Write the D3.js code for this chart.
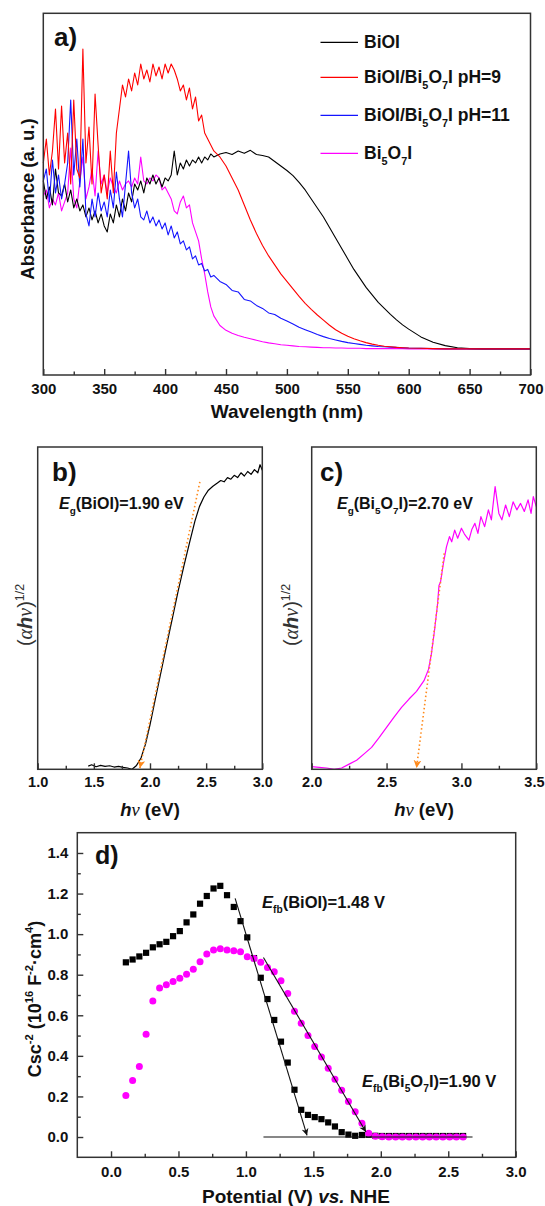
<!DOCTYPE html>
<html>
<head>
<meta charset="utf-8">
<script src="https://cdnjs.cloudflare.com/ajax/libs/d3/7.8.5/d3.min.js"></script>
<style>
body { margin: 0; background: #fff; }
svg { display: block; font-family: "Liberation Sans", Arial, sans-serif; font-weight: bold; }
</style>
</head>
<body>
<div class="canvas"></div>
<script>
// ---- panel a: UV-vis absorbance ----
var wavelength = [].concat(d3.range(300, 440.1, 2.5), d3.range(445, 600.1, 5), d3.range(610, 700.1, 10));

var absBiOI = [0.56,0.50,0.54,0.48,0.60,0.52,0.51,0.55,0.49,0.53,0.47,0.50,0.46,0.48,0.44,0.47,0.43,0.46,0.42,0.45,
    0.41,0.39,0.45,0.42,0.48,0.44,0.50,0.46,0.52,0.49,0.55,0.53,0.56,0.52,0.57,0.55,0.58,0.55,0.57,0.54,
    0.57,0.56,0.58,0.66,0.58,0.62,0.60,0.63,0.61,0.63,0.62,0.64,0.62,0.64,0.63,0.65,0.64,
    0.65,0.655,0.648,0.66,0.652,0.662,0.648,0.645,0.64,0.625,0.61,0.595,0.578,0.555,0.53,0.5,0.47,0.44,0.405,0.37,
    0.335,0.3,0.265,0.235,0.205,0.18,0.155,0.135,0.115,0.097,0.08,0.066,
    0.04,0.022,0.011,0.004,0.001,0,0,0,0,0];

var absPH9 = [0.62,0.70,0.58,0.66,0.80,0.60,0.81,0.62,0.72,0.55,0.83,0.60,0.57,1.00,0.62,0.74,0.55,0.85,0.68,0.52,
    0.58,0.50,0.66,0.52,0.72,0.80,0.88,0.84,0.90,0.86,0.92,0.88,0.95,0.90,0.93,0.89,0.95,0.91,0.94,0.90,
    0.95,0.92,0.95,0.93,0.90,0.86,0.88,0.83,0.87,0.80,0.84,0.76,0.78,0.72,0.70,0.68,0.66,
    0.64,0.61,0.57,0.53,0.48,0.43,0.385,0.345,0.31,0.28,0.25,0.225,0.2,0.175,0.152,0.132,0.113,0.096,0.079,0.064,
    0.052,0.042,0.034,0.027,0.021,0.016,0.012,0.009,0.007,0.005,0.004,0.003,
    0.002,0.001,0,0,0,0,0,0,0,0];

var absPH11 = [0.56,0.60,0.49,0.63,0.52,0.58,0.50,0.55,0.62,0.83,0.58,0.70,0.54,0.70,0.45,0.41,0.50,0.44,0.52,0.46,
    0.49,0.44,0.53,0.47,0.59,0.50,0.44,0.55,0.66,0.52,0.47,0.50,0.44,0.43,0.46,0.42,0.44,0.41,0.43,0.40,
    0.42,0.38,0.41,0.37,0.39,0.35,0.36,0.33,0.34,0.30,0.31,0.28,0.285,0.26,0.265,0.24,0.245,
    0.225,0.215,0.195,0.19,0.165,0.16,0.145,0.135,0.12,0.115,0.102,0.093,0.083,0.072,0.064,0.056,0.048,0.041,0.035,0.03,
    0.025,0.021,0.018,0.015,0.012,0.01,0.008,0.007,0.006,0.005,0.004,0.003,
    0.002,0.001,0,0,0,0,0,0,0,0];

var absBi5O7I = [0.51,0.53,0.47,0.50,0.48,0.52,0.46,0.49,0.52,0.67,0.50,0.47,0.56,0.64,0.50,0.54,0.60,0.51,0.66,0.55,
    0.58,0.52,0.57,0.54,0.52,0.56,0.53,0.55,0.56,0.54,0.57,0.55,0.64,0.56,0.55,0.57,0.56,0.58,0.57,0.53,
    0.54,0.52,0.50,0.46,0.45,0.49,0.51,0.47,0.48,0.42,0.39,0.36,0.30,0.25,0.19,0.14,0.11,
    0.078,0.062,0.052,0.045,0.039,0.034,0.029,0.024,0.02,0.017,0.014,0.012,0.01,0.008,0.007,0.006,0.005,0.004,0.004,0.003,
    0.003,0.002,0.002,0.002,0.001,0.001,0.001,0.001,0.001,0.001,0.001,0,
    0,0,0,0,0,0,0,0,0,0];

var wavelengthTicks = [300, 350, 400, 450, 500, 550, 600, 650, 700];
var wavelengthMinor = [325, 375, 425, 475, 525, 575, 625, 675];

// ---- panel b / c: Tauc plots ----
var bEnergy = [1.45,1.48,1.52,1.56,1.60,1.64,1.68,1.72,1.76,1.80,1.84,1.88,1.92,1.96,2.00,2.05,2.10,2.15,2.20,2.25,
    2.30,2.35,2.40,2.44,2.48,2.52,2.56,2.60,2.63,2.66,2.69,2.72,2.75,2.78,2.81,2.84,2.87,2.90,2.93,2.96,2.98,3.00];
var bSignal = [0.010,0.014,0.008,0.012,0.009,0.011,0.007,0.009,0.006,0.004,0.000,0.012,0.035,0.078,0.138,0.222,0.305,0.388,0.470,0.552,
    0.628,0.700,0.770,0.815,0.845,0.866,0.878,0.888,0.896,0.892,0.905,0.900,0.912,0.905,0.920,0.910,0.924,0.915,0.930,0.920,0.945,0.928];
var bTangent = [[2.444, 0.892], [1.91, 0.004]];
var bTicks = [1.0, 1.5, 2.0, 2.5, 3.0];
var bMinor = [1.25, 1.75, 2.25, 2.75];

var cEnergy = [2.00,2.05,2.10,2.15,2.20,2.25,2.30,2.35,2.40,2.45,2.50,2.55,2.60,2.65,2.70,2.75,2.78,2.80,2.82,2.84,
    2.85,2.86,2.88,2.90,2.92,2.935,2.955,2.975,3.00,3.02,3.05,3.07,3.09,3.11,3.13,3.155,3.18,3.20,3.225,3.25,
    3.27,3.295,3.32,3.345,3.37,3.395,3.42,3.445,3.465,3.48,3.50];
var cSignal = [0.008,0.006,0.004,0.000,0.004,0.016,0.028,0.048,0.068,0.098,0.130,0.162,0.192,0.218,0.242,0.275,0.31,0.36,0.43,0.51,
    0.57,0.58,0.64,0.69,0.722,0.706,0.742,0.717,0.748,0.73,0.711,0.745,0.763,0.732,0.784,0.753,0.805,0.774,0.877,0.794,
    0.774,0.82,0.784,0.83,0.805,0.825,0.80,0.836,0.794,0.846,0.815];
var cTangent = [[2.885, 0.67], [2.70, 0.004]];
var cTicks = [2.0, 2.5, 3.0, 3.5];
var cMinor = [2.25, 2.75, 3.25];

// ---- panel d: Mott-Schottky ----
var potential = [0.11,0.16,0.21,0.26,0.31,0.36,0.41,0.46,0.51,0.56,0.61,0.66,0.71,0.76,0.81,0.86,0.91,0.96,1.01,1.06,
    1.11,1.16,1.21,1.26,1.31,1.36,1.41,1.46,1.51,1.56,1.61,1.66,1.71,1.76,1.81,1.86,1.91,1.96,2.01,2.06,
    2.11,2.16,2.21,2.26,2.31,2.36,2.41,2.46,2.51,2.56,2.61];
var cscBiOI = [0.861,0.875,0.89,0.908,0.935,0.95,0.962,0.99,1.015,1.058,1.097,1.15,1.188,1.225,1.238,1.192,1.134,1.064,0.984,0.882,
    0.785,0.68,0.577,0.47,0.367,0.233,0.134,0.109,0.098,0.088,0.072,0.052,0.024,0.012,0.006,0.01,0.011,0.006,0.005,0.005,
    0.005,0.005,0.005,0.005,0.005,0.005,0.005,0.005,0.005,0.005,0.005];
var cscBi5O7I = [0.205,0.279,0.348,0.507,0.671,0.735,0.75,0.766,0.782,0.802,0.827,0.864,0.902,0.922,0.928,0.922,0.918,0.913,0.889,0.88,
    0.861,0.835,0.815,0.77,0.707,0.62,0.561,0.50,0.446,0.395,0.339,0.285,0.23,0.175,0.125,0.068,0.018,0.004,0.001,0,
    0,0,0,0,0,0,0,0,0,0,0];
var fitBiOI = [[0.92, 1.176], [1.453, 0.008]];
var fitBi5O7I = [[1.13, 0.885], [1.89, 0.025]];
var fitBase = [[1.13, 0], [2.68, 0]];
var potentialTicks = [0, 0.5, 1.0, 1.5, 2.0, 2.5, 3.0];
var potentialMinor = [0.25, 0.75, 1.25, 1.75, 2.25, 2.75];
var cscTicks = [0, 0.2, 0.4, 0.6, 0.8, 1.0, 1.2, 1.4];
var cscMinor = [0.1, 0.3, 0.5, 0.7, 0.9, 1.1, 1.3];

var svg = d3.select('.canvas').append('svg')
    .attr('width', 545)
    .attr('height', 1206);

var defs = svg.append('defs');
function arrowMarker(id, color, w, h) {
    defs.append('marker')
        .attr('id', id)
        .attr('viewBox', '0 0 10 10')
        .attr('refX', 10).attr('refY', 5)
        .attr('markerUnits', 'userSpaceOnUse')
        .attr('markerWidth', w).attr('markerHeight', h)
        .attr('orient', 'auto')
        .append('path')
            .attr('d', 'M0,0 L10,5 L0,10 L3,5 z')
            .attr('fill', color);
}
arrowMarker('arrowBlack', '#111', 9, 7);
arrowMarker('arrowOrange', '#ff8a1c', 8, 8);

// text with sub/superscripts
function rich(sel, parts, size) {
    var shift = 0;
    parts.forEach(function (p) {
        if (typeof p === 'string') p = {t: p};
        var target = p.sub ? size * 0.32 : (p.sup ? -size * 0.42 : 0);
        var t = sel.append('tspan').text(p.t).attr('dy', target - shift);
        shift = target;
        if (p.sub || p.sup) t.attr('font-size', size * 0.62);
        if (p.it) t.attr('font-style', 'italic');
        if (p.serif) t.attr('font-family', '"Liberation Serif", serif');
        if (p.light) t.attr('font-weight', 'normal');
    });
    return sel;
}

function label(x, y, size, parts, opts) {
    opts = opts || {};
    var t = svg.append('text')
        .attr('font-size', size)
        .attr('fill', opts.fill || '#111')
        .attr('text-anchor', opts.anchor || 'start');
    if (opts.rotate) {
        t.attr('transform', 'translate(' + x + ',' + y + ') rotate(-90)');
    } else {
        t.attr('x', x).attr('y', y);
    }
    return rich(t, parts, size);
}

function frame(box) {
    svg.append('rect')
        .attr('x', box.left).attr('y', box.top)
        .attr('width', box.right - box.left)
        .attr('height', box.bottom - box.top)
        .attr('fill', 'none')
        .attr('stroke', '#333')
        .attr('stroke-width', 1.5);
}

function styleAxis(g, size) {
    g.attr('font-family', null).attr('font-size', null);
    g.selectAll('.domain').remove();
    g.selectAll('line').attr('stroke', '#333').attr('stroke-width', 1.4);
    g.selectAll('text')
        .attr('font-size', size)
        .attr('font-weight', 'bold')
        .attr('fill', '#111');
}

function bottomAxis(box, x, majors, minors, pad, size) {
    var g = svg.append('g').attr('transform', 'translate(0,' + box.bottom + ')');
    g.call(d3.axisBottom(x).tickValues(majors).tickSize(-6).tickSizeOuter(0)
        .tickPadding(pad).tickFormat(d3.format(x.domain()[1] > 100 ? 'd' : '.1f')));
    g.append('g').call(d3.axisBottom(x).tickValues(minors).tickSize(-3.5).tickSizeOuter(0).tickFormat(''));
    styleAxis(g, size);
    styleAxis(g.select('g:last-child'), size);
    return g;
}

function leftAxis(box, y, majors, minors, pad, size) {
    var g = svg.append('g').attr('transform', 'translate(' + box.left + ',0)');
    g.call(d3.axisLeft(y).tickValues(majors).tickSize(-6).tickSizeOuter(0)
        .tickPadding(pad).tickFormat(d3.format('.1f')));
    g.append('g').call(d3.axisLeft(y).tickValues(minors).tickSize(-3.5).tickSizeOuter(0).tickFormat(''));
    styleAxis(g, size);
    styleAxis(g.select('g:last-child'), size);
    return g;
}

function curve(x, y, xs, ys, color, width) {
    var line = d3.line()
        .x(function (d) { return x(d[0]); })
        .y(function (d) { return y(d[1]); });
    svg.append('path')
        .datum(xs.map(function (v, i) { return [v, ys[i]]; }))
        .attr('d', line)
        .attr('fill', 'none')
        .attr('stroke', color)
        .attr('stroke-width', width)
        .attr('stroke-linejoin', 'round');
}

function segment(x, y, pts, color, width, dash, marker) {
    var p = svg.append('line')
        .attr('x1', x(pts[0][0])).attr('y1', y(pts[0][1]))
        .attr('x2', x(pts[1][0])).attr('y2', y(pts[1][1]))
        .attr('stroke', color)
        .attr('stroke-width', width);
    if (dash) p.attr('stroke-dasharray', dash);
    if (marker) p.attr('marker-end', 'url(#' + marker + ')');
}

// ================= a) =================
var boxA = {left: 43.3, right: 530.5, top: 13.3, bottom: 375};
var xA = d3.scaleLinear().domain([300, 700]).range([boxA.left, boxA.right]);
var yA = d3.scaleLinear().domain([-0.087, 1.119]).range([boxA.bottom, boxA.top]);

var seriesA = [
    {name: ['BiOI'], values: absBiOI, color: '#000000'},
    {name: ['BiOI/Bi', {t: '5', sub: true}, 'O', {t: '7', sub: true}, 'I pH=9'], values: absPH9, color: '#ff0000'},
    {name: ['BiOI/Bi', {t: '5', sub: true}, 'O', {t: '7', sub: true}, 'I pH=11'], values: absPH11, color: '#1414ff'},
    {name: ['Bi', {t: '5', sub: true}, 'O', {t: '7', sub: true}, 'I'], values: absBi5O7I, color: '#ff00ff'}
];

// draw order: magenta at the back, red on top
[3, 0, 2, 1].forEach(function (i) {
    var s = seriesA[i];
    curve(xA, yA, wavelength, s.values, s.color, 1.1);
});

var legendRows = [42.3, 77.3, 115.3, 153.3];
seriesA.forEach(function (s, i) {
    svg.append('line')
        .attr('x1', 320.5).attr('x2', 358)
        .attr('y1', legendRows[i]).attr('y2', legendRows[i])
        .attr('stroke', s.color).attr('stroke-width', 1.3);
    label(364, legendRows[i] + 6, 17.5, s.name);
});

frame(boxA);
bottomAxis(boxA, xA, wavelengthTicks, wavelengthMinor, 8, 15);
label(54, 46, 26, ['a)']);
label(287, 418, 19, ['Wavelength (nm)'], {anchor: 'middle'});
label(34, 199, 18.5, ['Absorbance (a. u.)'], {anchor: 'middle', rotate: true});

// ================= b) =================
var boxB = {left: 37.7, right: 262.3, top: 447, bottom: 769.3};
var xB = d3.scaleLinear().domain([1.0, 3.0]).range([boxB.left, boxB.right]);
var yB = d3.scaleLinear().domain([0, 1]).range([boxB.bottom, boxB.top]);
curve(xB, yB, bEnergy, bSignal, '#000', 1.2);
segment(xB, yB, bTangent, '#ff8a1c', 1.6, '1.5,2.6', 'arrowOrange');
frame(boxB);
bottomAxis(boxB, xB, bTicks, bMinor, 7, 14.5);
label(52, 481, 26, ['b)']);
label(59, 509, 16, [{t: 'E', it: true}, {t: 'g', sub: true}, '(BiOI)=1.90 eV']);

// ================= c) =================
var boxC = {left: 311.7, right: 536.3, top: 447, bottom: 769.3};
var xC = d3.scaleLinear().domain([2.0, 3.5]).range([boxC.left, boxC.right]);
var yC = d3.scaleLinear().domain([0, 1]).range([boxC.bottom, boxC.top]);
curve(xC, yC, cEnergy, cSignal, '#ff00ff', 1.2);
segment(xC, yC, cTangent, '#ff8a1c', 1.6, '1.5,2.6', 'arrowOrange');
frame(boxC);
var axisC = bottomAxis(boxC, xC, cTicks, cMinor, 7, 14.5);
// last label sits at the page edge: keep it inside
axisC.selectAll('.tick text')
    .filter(function (d) { return d === 3.5; })
    .attr('text-anchor', 'end')
    .attr('x', 545 - 1 - xC(3.5));
label(320, 481, 26, ['c)']);
label(337, 509, 16, [{t: 'E', it: true}, {t: 'g', sub: true}, '(Bi', {t: '5', sub: true}, 'O', {t: '7', sub: true}, 'I)=2.70 eV']);

var tauc = [{t: '(', light: true}, {t: 'α', it: true, serif: true, light: true}, {t: 'h', it: true},
    {t: 'ν', it: true, serif: true, light: true}, {t: ')', light: true}, {t: '1/2', sup: true, light: true}];
label(32, 615, 20, tauc, {anchor: 'middle', rotate: true, fill: '#333'});
label(298, 615, 20, tauc, {anchor: 'middle', rotate: true, fill: '#333'});

var hvTitle = [{t: 'h', it: true}, {t: 'ν', it: true, serif: true, light: true}, ' (eV)'];
label(150, 816, 18.5, hvTitle, {anchor: 'middle'});
label(424, 816, 18.5, hvTitle, {anchor: 'middle'});

// ================= d) =================
var boxD = {left: 77.3, right: 515.7, top: 832.7, bottom: 1157.3};
var xD = d3.scaleLinear().domain([-0.25, 3.0]).range([boxD.left, boxD.right]);
var yD = d3.scaleLinear().domain([-0.1, 1.5]).range([boxD.bottom, boxD.top]);

svg.append('g').selectAll('rect')
    .data(potential.map(function (v, i) { return [v, cscBiOI[i]]; }))
    .enter()
    .append('rect')
    .attr('x', function (d) { return xD(d[0]) - 3.1; })
    .attr('y', function (d) { return yD(d[1]) - 3.1; })
    .attr('width', 6.2)
    .attr('height', 6.2)
    .attr('fill', '#000');

svg.append('g').selectAll('circle')
    .data(potential.map(function (v, i) { return [v, cscBi5O7I[i]]; }))
    .enter()
    .append('circle')
    .attr('cx', function (d) { return xD(d[0]); })
    .attr('cy', function (d) { return yD(d[1]); })
    .attr('r', 3.5)
    .attr('fill', '#ff00ff');

segment(xD, yD, fitBase, '#111', 1.1);
segment(xD, yD, fitBiOI, '#111', 1.1, null, 'arrowBlack');
segment(xD, yD, fitBi5O7I, '#111', 1.1, null, 'arrowBlack');

frame(boxD);
bottomAxis(boxD, xD, potentialTicks, potentialMinor, 9, 15);
leftAxis(boxD, yD, cscTicks, cscMinor, 9, 15);
label(95, 864, 25, ['d)']);
label(262, 908, 16.5, [{t: 'E', it: true}, {t: 'fb', sub: true}, '(BiOI)=1.48 V']);
label(362, 1087, 16.5, [{t: 'E', it: true}, {t: 'fb', sub: true}, '(Bi', {t: '5', sub: true}, 'O', {t: '7', sub: true}, 'I)=1.90 V']);
label(296, 1203, 19, ['Potential (V) ', {t: 'vs.', it: true}, ' NHE'], {anchor: 'middle'});
label(41, 999, 18, ['Csc', {t: '-2', sup: true}, ' (10', {t: '16', sup: true}, ' F', {t: '-2', sup: true},
    '·cm', {t: '4', sup: true}, ')'], {anchor: 'middle', rotate: true});
</script>
</body>
</html>
